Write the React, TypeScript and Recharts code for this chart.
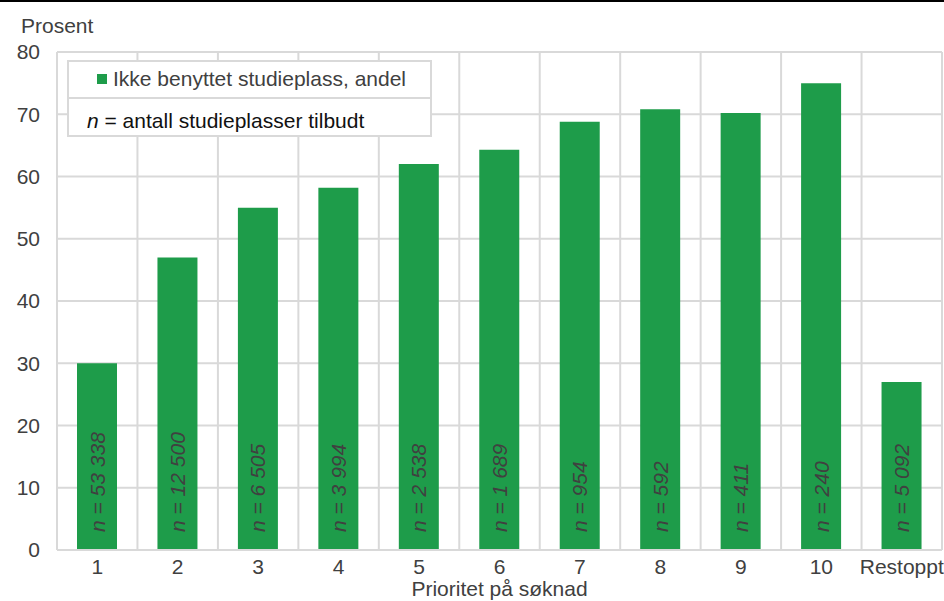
import React from "react";
import { BarChart, Bar, XAxis, YAxis, CartesianGrid, LabelList } from "recharts";

const categories = ["1", "2", "3", "4", "5", "6", "7", "8", "9", "10", "Restoppt"];
const shareNotUsed = [30, 47, 55, 58.2, 62, 64.3, 68.8, 70.8, 70.2, 75, 27];
const offered = ["53 338", "12 500", "6 505", "3 994", "2 538", "1 689", "954", "592", "411", "240", "5 092"];
const yTicks = [0, 10, 20, 30, 40, 50, 60, 70, 80];

const data = categories.map((c, i) => ({ cat: c, value: shareNotUsed[i], n: offered[i] }));

const W = 944;
const H = 601;
const MARGIN = { top: 52, right: 2, bottom: 0, left: 0 };
const FONT = "Liberation Sans, Arial, sans-serif";
const FS = 21;
const GREEN = "#1e9c4a";
const GRID = "#d9d9d9";
const TXT = "#404040";

const NLabel = (props: any) => {
  const { x, y, width, height, index } = props;
  const cx = Number(x) + Number(width) / 2;
  const by = Number(y) + Number(height) - 18;
  return (
    <text
      x={cx}
      y={by}
      transform={`rotate(-90, ${cx}, ${by})`}
      textAnchor="start"
      dominantBaseline="central"
      fontFamily={FONT}
      fontSize={FS}
      fontStyle="italic"
      fill={TXT}
    >
      n = {offered[index]}
    </text>
  );
};

const legendRow: React.CSSProperties = {
  position: "absolute",
  left: 67,
  width: 365,
  boxSizing: "border-box",
  border: `2px solid ${GRID}`,
  background: "#fff",
};

const textStyle: React.CSSProperties = {
  position: "absolute",
  fontFamily: FONT,
  fontSize: FS,
  lineHeight: `${FS}px`,
  whiteSpace: "nowrap",
};

export default function App() {
  const vGen = (p: any) => {
    const off = p && p.offset && typeof p.offset.left === "number" ? p.offset : { left: 57, width: 885 };
    const n = categories.length;
    return Array.from({ length: n + 1 }, (_, i) => off.left + (i * off.width) / n);
  };
  return (
    <div style={{ position: "absolute", left: 0, top: 0, width: W, height: H, background: "#fff", overflow: "hidden" }}>
      <BarChart width={W} height={H} data={data} margin={MARGIN}>
        <CartesianGrid stroke={GRID} strokeWidth={2} verticalCoordinatesGenerator={vGen} />
        <XAxis
          dataKey="cat"
          height={51}
          tickLine={false}
          axisLine={{ stroke: GRID, strokeWidth: 2 }}
          tick={{ fontFamily: FONT, fontSize: FS, fill: TXT }}
          tickMargin={3}
          interval={0}
          label={{
            value: "Prioritet på søknad",
            position: "insideBottom",
            offset: 5,
            style: { fontFamily: FONT, fontSize: FS, fill: TXT },
          }}
        />
        <YAxis
          width={57}
          domain={[0, 80]}
          ticks={yTicks}
          tickLine={false}
          axisLine={false}
          tick={{ fontFamily: FONT, fontSize: FS, fill: TXT }}
          tickMargin={11}
        />
        <Bar dataKey="value" fill={GREEN} barSize={40} isAnimationActive={false}>
          <LabelList dataKey="n" content={NLabel} />
        </Bar>
      </BarChart>
      <div style={{ position: "absolute", left: 0, top: 0, width: W, height: 2, background: "#000" }} />
      <div style={{ ...textStyle, left: 21, top: 15, color: TXT }}>Prosent</div>
      <div style={{ ...legendRow, top: 60, height: 39 }}>
        <span style={{ position: "absolute", left: 28, top: 12, width: 10, height: 10, background: GREEN }} />
        <span style={{ ...textStyle, left: 44, top: 6, color: TXT }}>Ikke benyttet studieplass, andel</span>
      </div>
      <div style={{ ...legendRow, top: 97, height: 40 }}>
        <span style={{ ...textStyle, left: 18, top: 11, color: "#111" }}>
          <i>n</i> = antall studieplasser tilbudt
        </span>
      </div>
    </div>
  );
}
